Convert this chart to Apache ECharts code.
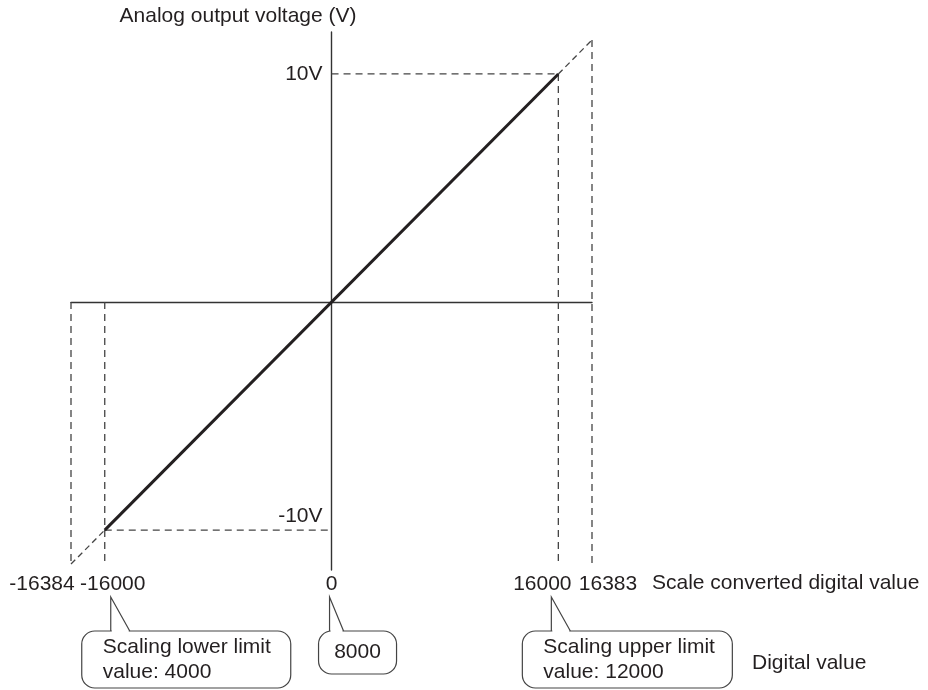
<!DOCTYPE html>
<html>
<head>
<meta charset="utf-8">
<script src="https://cdn.jsdelivr.net/npm/echarts@6/dist/echarts.min.js"></script>
<style>
  html, body { margin: 0; background: #fff; }
  #chart { width: 928px; height: 690px; }
</style>
</head>
<body>
<div id="chart"></div>
<script>
// scale converted digital value (x) and analog output voltage (y)
const digitalTicks = [-16384, -16000, 0, 16000, 16383]
const digitalLabels = ['-16384', '-16000', '0', '16000', '16383']
const voltageTicks = [-10, 10]
const voltageLabels = ['-10V', '10V']
// conversion line inside the scaling range
const lineDigital = [-16000, 16000]
const lineVoltage = [-10, 10]
// extension out to the ends of the digital range
const extLowDigital = [-16384, -16000]
const extLowVoltage = [-10.24, -10]
const extHighDigital = [16000, 16383]
const extHighVoltage = [10, 10.24]
// digital values marked by callouts
const calloutDigital = [-16000, 0, 16000]
const calloutText = ['Scaling lower limit\nvalue: 4000', '8000', 'Scaling upper limit\nvalue: 12000']

// the figure is not to scale past +-16000 / +-10V, the last bit is drawn stretched
const STRETCH = 6.2
function fx (v) {
  const a = Math.abs(v)
  return a <= 16000 ? v : Math.sign(v) * (16000 + (a - 16000) * STRETCH)
}
function fy (v) {
  const a = Math.abs(v)
  return a <= 10 ? v : Math.sign(v) * (10 + (a - 10) * STRETCH)
}
function pts (xs, ys) {
  return xs.map((x, i) => [fx(x), fy(ys[i])])
}

const textColor = '#231f20'
const lineColor = '#333'
const font = 'Liberation Sans, Arial, sans-serif'
const bottomV = extLowVoltage[0] // dashed guides run down to this level

// dashed guide segments [x0, y0, x1, y1]
const guides = [
  [0, lineVoltage[1], lineDigital[1], lineVoltage[1]],
  [lineDigital[0], lineVoltage[0], 0, lineVoltage[0]],
  [lineDigital[1], lineVoltage[1], lineDigital[1], bottomV],
  [extHighDigital[1], extHighVoltage[1], extHighDigital[1], bottomV],
  [lineDigital[0], 0, lineDigital[0], bottomV],
  [extLowDigital[0], 0, extLowDigital[0], bottomV]
]

// label nudges (px) so the tick labels don't collide
const tickShift = [-29, 8, 0, -16, 16]

const chart = echarts.init(document.getElementById('chart'))

const dashed = (data, dash) => ({
  type: 'line',
  data: data,
  symbol: 'none',
  clip: false,
  silent: true,
  lineStyle: { color: '#444', width: 1.3, type: dash }
})

const rich = {}
tickShift.forEach((s, i) => {
  rich['t' + i] = {
    fontSize: 21, fontFamily: font, color: textColor,
    padding: s >= 0 ? [0, 0, 0, 2 * s] : [0, -2 * s, 0, 0]
  }
})

const option = {
  animation: false,
  backgroundColor: '#fff',
  grid: { left: 71, right: 336, top: 32, bottom: 120, containLabel: false },
  xAxis: [
    {
      type: 'value',
      min: fx(digitalTicks[0]),
      max: fx(digitalTicks[4]),
      axisLine: { onZero: true, lineStyle: { color: lineColor, width: 1.4 } },
      axisTick: { show: false },
      axisLabel: { show: false },
      splitLine: { show: false }
    },
    {
      type: 'value',
      position: 'bottom',
      min: fx(digitalTicks[0]),
      max: fx(digitalTicks[4]),
      axisLine: { show: false, onZero: false },
      axisTick: { show: false },
      splitLine: { show: false },
      name: 'Scale converted digital value',
      nameLocation: 'end',
      nameGap: 60,
      nameTextStyle: {
        fontSize: 21, fontFamily: font, color: textColor,
        align: 'left', verticalAlign: 'top', padding: [3, 0, 0, 0]
      },
      axisLabel: {
        customValues: digitalTicks.map(fx),
        margin: 4,
        formatter: function (v) {
          const i = digitalTicks.map(fx).findIndex(t => Math.abs(t - v) < 1)
          return i < 0 ? '' : '{t' + i + '|' + digitalLabels[i] + '}'
        },
        rich: rich
      }
    }
  ],
  yAxis: {
    type: 'value',
    min: -11.75,
    max: 11.84,
    axisLine: { onZero: true, lineStyle: { color: lineColor, width: 1.4 } },
    axisTick: { show: false },
    splitLine: { show: false },
    name: 'Analog output voltage (V)',
    nameLocation: 'end',
    nameGap: 5,
    nameTextStyle: {
      fontSize: 21, fontFamily: font, color: textColor,
      align: 'center', padding: [0, 187, 0, 0]
    },
    axisLabel: {
      customValues: voltageTicks,
      margin: 9,
      formatter: function (v) {
        const i = voltageTicks.indexOf(v)
        return i < 0 ? '' : '{' + (v < 0 ? 'lo' : 'hi') + '|' + voltageLabels[i] + '}'
      },
      rich: {
        hi: { fontSize: 21, fontFamily: font, color: textColor },
        lo: { fontSize: 21, fontFamily: font, color: textColor, padding: [0, 0, 28, 0] }
      }
    }
  },
  series: [
    ...guides.map(g => dashed([[fx(g[0]), fy(g[1])], [fx(g[2]), fy(g[3])]], [7, 5])),
    dashed(pts(extLowDigital, extLowVoltage), [6, 4]),
    dashed(pts(extHighDigital, extHighVoltage), [6, 4]),
    {
      type: 'line',
      data: pts(lineDigital, lineVoltage),
      symbol: 'none',
      silent: true,
      lineStyle: { color: '#231f20', width: 3 }
    }
  ]
}

chart.setOption(option)

// y labels sit next to the axis line (which is at x = 0), not at the grid edge
const originX = chart.convertToPixel({ xAxisIndex: 0, yAxisIndex: 0 }, [0, 0])[0]
chart.setOption({ yAxis: { axisLabel: { margin: 9 - (originX - option.grid.left) } } })

// callout boxes under the tick labels
const callLayout = [
  { tail: 6, base: 25, left: -23, w: 209, h: 57 },
  { tail: -2, base: 12, left: -13, w: 78, h: 43 },
  { tail: -7, base: 12, left: -36, w: 210, h: 57 }
]
const graphics = []
calloutDigital.forEach((d, i) => {
  const px = chart.convertToPixel({ xAxisIndex: 0, yAxisIndex: 0 }, [fx(d), 0])[0]
  const c = callLayout[i]
  const ax = px + c.tail, ay = 597
  const bx = px + c.base
  const top = 631
  const l = px + c.left
  graphics.push({
    type: 'rect',
    shape: { x: l, y: top, width: c.w, height: c.h, r: 13 },
    style: { fill: '#fff', stroke: '#444', lineWidth: 1.2 },
    silent: true
  })
  // open the box top where the tail joins
  graphics.push({
    type: 'line',
    shape: { x1: ax + 1, y1: top, x2: bx - 1, y2: top },
    style: { stroke: '#fff', lineWidth: 3 },
    silent: true
  })
  graphics.push({
    type: 'polyline',
    shape: { points: [[ax, top], [ax, ay], [bx, top]] },
    style: { stroke: '#444', lineWidth: 1.2, fill: null },
    silent: true
  })
  const multi = calloutText[i].indexOf('\n') >= 0
  graphics.push({
    type: 'text',
    x: multi ? l + 21 : l + c.w / 2,
    y: top + c.h / 2,
    style: {
      text: calloutText[i],
      fontSize: 21,
      fontFamily: font,
      fill: textColor,
      lineHeight: 25,
      align: multi ? 'left' : 'center',
      verticalAlign: 'middle'
    },
    silent: true
  })
})
graphics.push({
  type: 'text',
  x: 752,
  y: 663,
  style: { text: 'Digital value', fontSize: 21, fontFamily: font, fill: textColor, verticalAlign: 'middle' },
  silent: true
})
chart.setOption({ graphic: graphics })
</script>
</body>
</html>
